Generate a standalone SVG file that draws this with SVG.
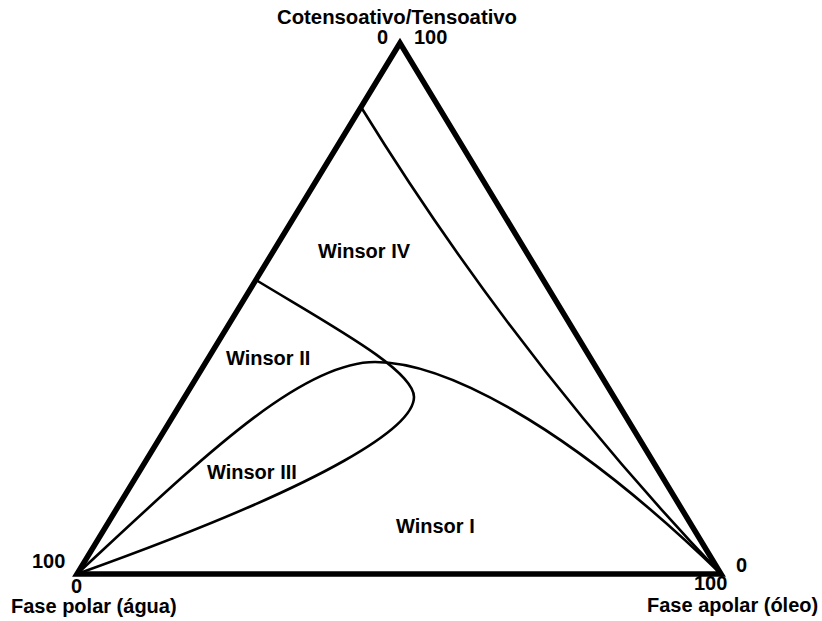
<svg xmlns="http://www.w3.org/2000/svg" width="822" height="621" viewBox="0 0 822 621">
  <style>
    .lbl { font-family: "Liberation Sans", Arial, sans-serif; font-weight: bold; font-size: 20px; fill: #000; }
    .frame { fill: none; stroke: #000; stroke-width: 5.5; stroke-linejoin: miter; stroke-miterlimit: 10; }
    .curve { fill: none; stroke: #000; stroke-width: 2.6; stroke-linecap: round; }
  </style>
  <rect width="822" height="621" fill="#fff"/>
  <g id="triangle">
    <polygon class="frame" points="400,43 77,574 721,574"/>
  </g>
  <g id="connectors">
    <path id="boundary-IV-I" class="curve" d="M361,107 Q517,360 721,574"/>
    <path id="boundary-II" class="curve" d="M256,280 C330,325 414,370 414,397 C414,425 340,480 77,574"/>
    <path id="boundary-III-I" class="curve" d="M77,574 C200,460 300,362 375,362 C440,362 560,418 721,574"/>
  </g>
  <g id="vertex-top">
    <text class="lbl" x="277" y="24" textLength="240" lengthAdjust="spacingAndGlyphs">Cotensoativo/Tensoativo</text>
    <text class="lbl" x="377" y="44">0</text>
    <text class="lbl" x="414" y="44">100</text>
  </g>
  <g id="vertex-left">
    <text class="lbl" x="32" y="568">100</text>
    <text class="lbl" x="71" y="593">0</text>
    <text class="lbl" x="11" y="613">Fase polar (água)</text>
  </g>
  <g id="vertex-right">
    <text class="lbl" x="736" y="572">0</text>
    <text class="lbl" x="694" y="590">100</text>
    <text class="lbl" x="647" y="612">Fase apolar (óleo)</text>
  </g>
  <g id="winsor-IV"><text class="lbl" x="318" y="258">Winsor IV</text></g>
  <g id="winsor-II"><text class="lbl" x="226" y="365">Winsor II</text></g>
  <g id="winsor-III"><text class="lbl" x="207" y="479">Winsor III</text></g>
  <g id="winsor-I"><text class="lbl" x="396" y="533">Winsor I</text></g>
</svg>
